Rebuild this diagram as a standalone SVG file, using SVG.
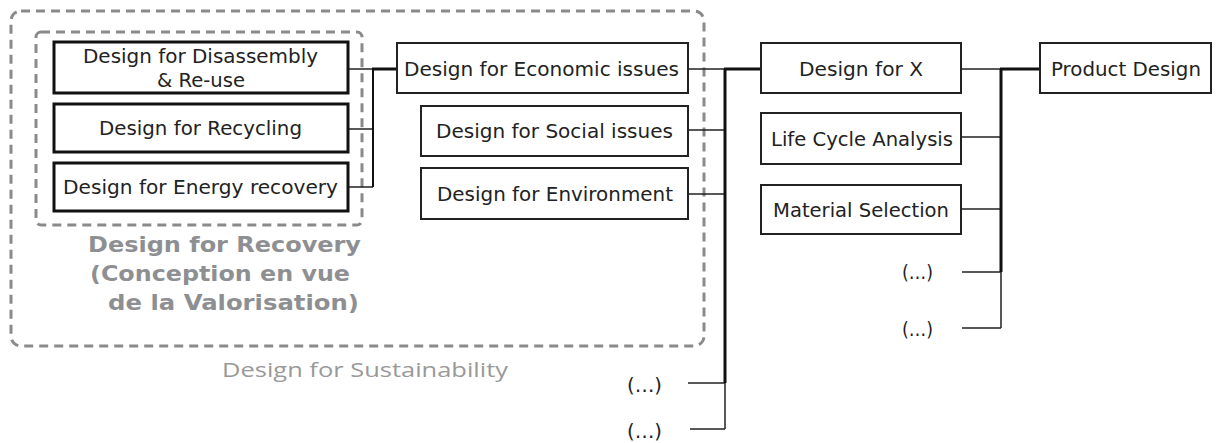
<svg xmlns="http://www.w3.org/2000/svg" width="1216" height="443" viewBox="0 0 1216 443">
<style>
.bx{fill:#fff;stroke:#222;stroke-width:2}
.bxr{fill:#fff;stroke:#111;stroke-width:3}
.t{font-family:"DejaVu Sans","Liberation Sans",sans-serif;font-size:19px;fill:#222}
.dash{fill:none;stroke:#8a8a8a;stroke-width:3;stroke-dasharray:9 6}
.gb{font-family:"DejaVu Sans","Liberation Sans",sans-serif;font-size:22px;font-weight:bold;fill:#8e8f93}
.gs{font-family:"Open Sans","Noto Sans",sans-serif;font-size:20px;fill:#999}
.thin{stroke:#222;stroke-width:1.5;fill:none}
.mid{stroke:#111;stroke-width:2;fill:none}
.thick{stroke:#111;stroke-width:3;fill:none}
</style>
<g id="sustainability">
<rect class="dash" x="11" y="11" width="693" height="335" rx="10"/>
<text class="gs" x="222" y="377" textLength="286" lengthAdjust="spacingAndGlyphs">Design for Sustainability</text>
</g>
<g id="recovery">
<rect class="dash" x="36" y="32" width="326" height="193" rx="5"/>
<text class="gb" x="88" y="252" textLength="273" lengthAdjust="spacingAndGlyphs">Design for Recovery</text>
<text class="gb" x="90" y="281" textLength="260" lengthAdjust="spacingAndGlyphs">(Conception en vue</text>
<text class="gb" x="108" y="310" textLength="251" lengthAdjust="spacingAndGlyphs">de la Valorisation)</text>
</g>
<g id="connectors">
<path class="thin" d="M348 69H373M348 129H373M348 187H373"/>
<path class="mid" d="M373 69V187"/>
<path class="thick" d="M372 69H397"/>
<path class="thin" d="M688 69H725M688 130H725M688 194H725M688 383H725M690 429H725M725 383V429"/>
<path class="thick" d="M725 69V383M724 69H761"/>
<path class="thin" d="M961 69H1001M961 137H1001M961 209H1001M962 272H1001M962 328H1001M1001 272V328"/>
<path class="thick" d="M1001 69V272M1000 69H1040"/>
</g>
<g id="n-disassembly">
<rect class="bxr" x="54" y="42" width="294" height="51"/>
<text class="t" x="83" y="63" textLength="235" lengthAdjust="spacingAndGlyphs">Design for Disassembly</text>
<text class="t" x="157" y="87" textLength="88" lengthAdjust="spacingAndGlyphs">&amp; Re-use</text>
</g>
<g id="n-recycling">
<rect class="bxr" x="54" y="104" width="294" height="48"/>
<text class="t" x="99" y="135" textLength="203" lengthAdjust="spacingAndGlyphs">Design for Recycling</text>
</g>
<g id="n-energy">
<rect class="bxr" x="54" y="163" width="294" height="48"/>
<text class="t" x="63" y="194" textLength="275" lengthAdjust="spacingAndGlyphs">Design for Energy recovery</text>
</g>
<g id="n-economic">
<rect class="bx" x="397" y="43" width="291" height="50"/>
<text class="t" x="404" y="76" textLength="275" lengthAdjust="spacingAndGlyphs">Design for Economic issues</text>
</g>
<g id="n-social">
<rect class="bx" x="421" y="106" width="267" height="50"/>
<text class="t" x="436" y="138" textLength="237" lengthAdjust="spacingAndGlyphs">Design for Social issues</text>
</g>
<g id="n-environment">
<rect class="bx" x="421" y="168" width="267" height="51"/>
<text class="t" x="437" y="201" textLength="236" lengthAdjust="spacingAndGlyphs">Design for Environment</text>
</g>
<g id="n-more1">
<text class="t" x="627" y="392" textLength="35" lengthAdjust="spacingAndGlyphs">(…)</text>
</g>
<g id="n-more2">
<text class="t" x="627" y="438" textLength="35" lengthAdjust="spacingAndGlyphs">(…)</text>
</g>
<g id="n-dfx">
<rect class="bx" x="761" y="43" width="200" height="50"/>
<text class="t" x="799" y="76" textLength="124" lengthAdjust="spacingAndGlyphs">Design for X</text>
</g>
<g id="n-lca">
<rect class="bx" x="761" y="113" width="200" height="51"/>
<text class="t" x="771" y="146" textLength="182" lengthAdjust="spacingAndGlyphs">Life Cycle Analysis</text>
</g>
<g id="n-material">
<rect class="bx" x="761" y="185" width="200" height="49"/>
<text class="t" x="773" y="217" textLength="176" lengthAdjust="spacingAndGlyphs">Material Selection</text>
</g>
<g id="n-more3">
<text class="t" x="902" y="279" textLength="31" lengthAdjust="spacingAndGlyphs">(…)</text>
</g>
<g id="n-more4">
<text class="t" x="902" y="336" textLength="31" lengthAdjust="spacingAndGlyphs">(…)</text>
</g>
<g id="n-product">
<rect class="bx" x="1040" y="43" width="171" height="50"/>
<text class="t" x="1051" y="76" textLength="150" lengthAdjust="spacingAndGlyphs">Product Design</text>
</g>
</svg>
